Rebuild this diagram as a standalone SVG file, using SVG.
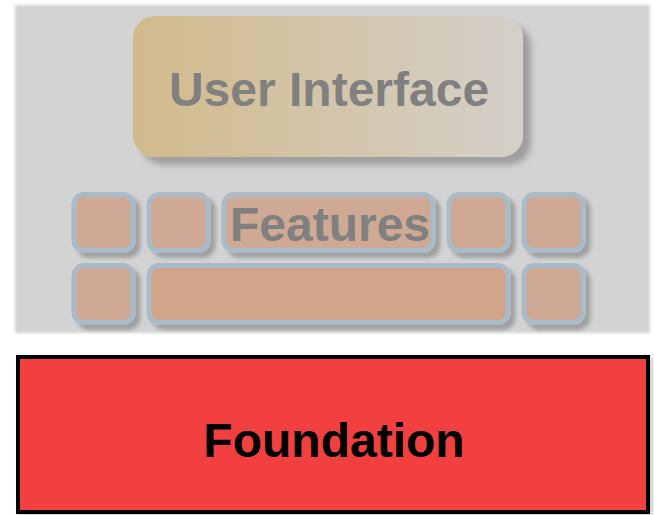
<svg xmlns="http://www.w3.org/2000/svg" width="654" height="515" viewBox="0 0 654 515">
<defs>
<linearGradient id="uiGrad" x1="0" y1="0" x2="1" y2="0">
<stop offset="0" stop-color="#d2ba8b"/>
<stop offset="1" stop-color="#d4d0c9"/>
</linearGradient>
<filter id="shadowL" x="-10%" y="-10%" width="130%" height="140%">
<feGaussianBlur in="SourceAlpha" stdDeviation="3"/>
<feOffset dx="8" dy="8" result="b"/>
<feComponentTransfer><feFuncA type="linear" slope="0.25"/></feComponentTransfer>
<feMerge><feMergeNode/><feMergeNode in="SourceGraphic"/></feMerge>
</filter>
<filter id="shadowS" x="-20%" y="-20%" width="150%" height="150%">
<feGaussianBlur in="SourceAlpha" stdDeviation="2"/>
<feOffset dx="5" dy="5" result="b"/>
<feComponentTransfer><feFuncA type="linear" slope="0.25"/></feComponentTransfer>
<feMerge><feMergeNode/><feMergeNode in="SourceGraphic"/></feMerge>
</filter>
<filter id="shadowF" x="-5%" y="-5%" width="110%" height="110%">
<feGaussianBlur in="SourceAlpha" stdDeviation="2"/>
<feOffset dx="3" dy="2" result="b"/>
<feComponentTransfer><feFuncA type="linear" slope="0.2"/></feComponentTransfer>
<feMerge><feMergeNode/><feMergeNode in="SourceGraphic"/></feMerge>
</filter>
<filter id="bgBlur" x="-5%" y="-5%" width="110%" height="110%">
<feGaussianBlur stdDeviation="1.5"/>
</filter>
</defs>
<style>
.lbl{font-family:"Liberation Sans",Arial,sans-serif;font-weight:bold;font-size:48px;text-anchor:middle}
.grey{fill:#808080}
.feat{fill:#cfa994;stroke:#a9bbc8;stroke-width:5}
.feat.wide{fill:#d1a589}
</style>
<rect width="654" height="515" fill="#ffffff"/>
<g id="background">
<rect x="15" y="5" width="635" height="328" fill="#d3d3d3" filter="url(#bgBlur)"/>
</g>
<g id="connectors"></g>
<g id="user-interface">
<rect x="133" y="16" width="390" height="141" rx="22" fill="url(#uiGrad)" filter="url(#shadowL)"/>
<text class="lbl grey" x="329" y="106">User Interface</text>
</g>
<g id="features">
<g filter="url(#shadowS)">
<rect class="feat" x="74" y="194.5" width="59" height="56" rx="10"/>
<rect class="feat" x="149" y="194.5" width="59" height="56" rx="10"/>
<rect class="feat" x="224" y="194.5" width="209" height="56" rx="10"/>
<rect class="feat" x="449" y="194.5" width="59" height="56" rx="10"/>
<rect class="feat" x="524" y="194.5" width="59" height="56" rx="10"/>
<rect class="feat" x="74" y="265.5" width="59" height="57" rx="10"/>
<rect class="feat wide" x="149" y="265.5" width="359" height="57" rx="10"/>
<rect class="feat" x="524" y="265.5" width="59" height="57" rx="10"/>
</g>
<text class="lbl grey" x="330" y="241">Features</text>
</g>
<g id="foundation">
<rect x="18" y="357" width="630" height="155" fill="#f24140" stroke="#000000" stroke-width="4" filter="url(#shadowF)"/>
<text class="lbl" x="334" y="457" fill="#000000">Foundation</text>
</g>
</svg>
